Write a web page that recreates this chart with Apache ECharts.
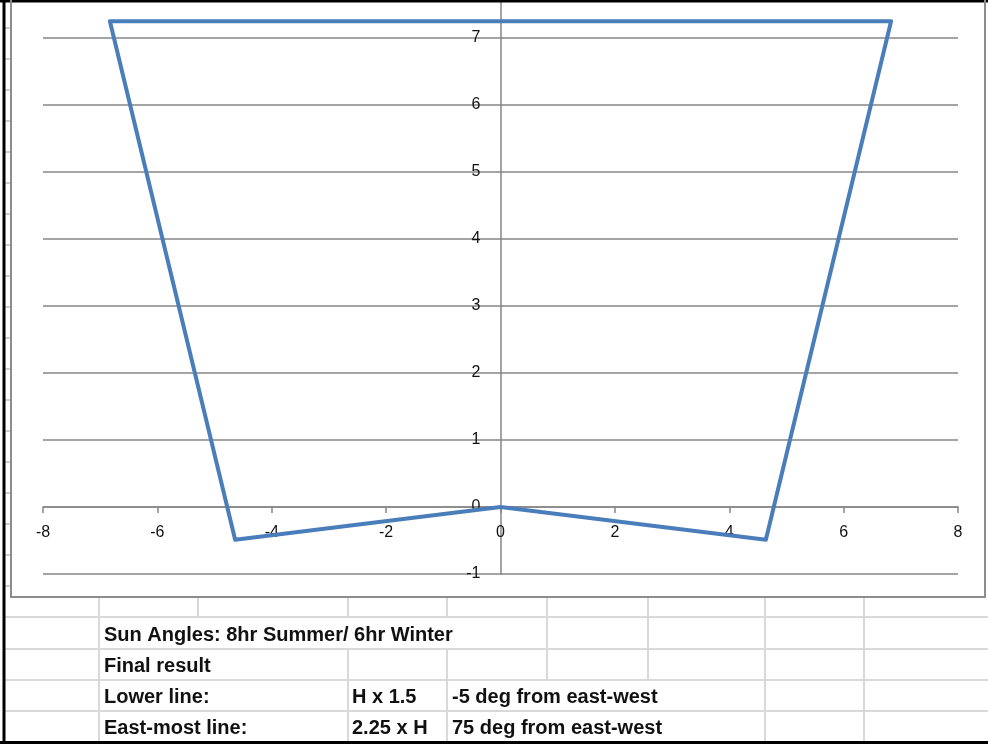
<!DOCTYPE html>
<html>
<head>
<meta charset="utf-8">
<script src="https://cdn.jsdelivr.net/npm/echarts@6/dist/echarts.min.js"></script>
<style>
html,body{margin:0;padding:0;background:#fff;}
#chart{width:988px;height:744px;}
</style>
</head>
<body>
<div id="chart"></div>
<script>
// Data
var xValues = [-6.83, -4.64, 0, 4.64, 6.83, -6.83];
var yValues = [7.25, -0.49, 0, -0.49, 7.25, 7.25];
var xTicks = [-8, -6, -4, -2, 0, 2, 4, 6, 8];
var yTicks = [-1, 0, 1, 2, 3, 4, 5, 6, 7];
var cellRows = [
  ["Sun Angles: 8hr Summer/ 6hr Winter", "", ""],
  ["Final result", "", ""],
  ["Lower line:", "H x 1.5", "-5 deg from east-west"],
  ["East-most line:", "2.25 x H", "75 deg from east-west"]
];

var points = xValues.map(function (x, i) { return [x, yValues[i]]; });

// spreadsheet decoration
var gridColor = '#d9d9d9';
var rowLines = [617, 649, 680, 711];
var colLines = [99, 198, 348, 447, 547, 648, 765, 864];
var rowBands = [[597, 617], [617, 649], [649, 680], [680, 711], [711, 742]];
var hidden = [[], [198, 348, 447], [198], [198, 547, 648], [198, 547, 648]];
var g = [];
function line(x1, y1, x2, y2, color, w) {
  g.push({type: 'line', silent: true, z: 1,
    shape: {x1: x1, y1: y1, x2: x2, y2: y2},
    style: {stroke: color, lineWidth: w}});
}
rowLines.forEach(function (y) { line(5, y, 988, y, gridColor, 2); });
rowBands.forEach(function (b, i) {
  colLines.forEach(function (x) {
    if (hidden[i].indexOf(x) < 0) line(x, b[0], x, b[1], gridColor, 2);
  });
});
for (var y = 28; y < 597; y += 31) line(5, y, 11, y, '#cfcfcf', 2);
g.push({type: 'rect', silent: true, z: 2,
  shape: {x: 11, y: -10, width: 974, height: 607},
  style: {fill: null, stroke: '#8c8c8c', lineWidth: 2}});
line(4, 0, 4, 744, '#000', 3);
line(0, 1, 988, 1, '#000', 3);
line(0, 742.5, 988, 742.5, '#000', 3);
var textX = [104, 352, 452];
var textY = [635, 666, 697, 728];
cellRows.forEach(function (r, i) {
  r.forEach(function (t, j) {
    if (!t) return;
    g.push({type: 'text', silent: true, z: 3, x: textX[j], y: textY[i],
      style: {text: t, fill: '#111', font: 'bold 20px "Liberation Sans", Arial, sans-serif',
        textAlign: 'left', textVerticalAlign: 'middle'}});
  });
});

var chart = echarts.init(document.getElementById('chart'));
chart.setOption({
  animation: false,
  backgroundColor: '#fff',
  textStyle: {fontFamily: '"Liberation Sans", Arial, sans-serif'},
  grid: {left: 43, right: 30, top: -29, bottom: 170, containLabel: false, outerBoundsMode: 'none'},
  xAxis: {
    type: 'value', min: xTicks[0], max: xTicks[xTicks.length - 1], interval: 2,
    position: 'bottom', offset: -67,
    axisLine: {onZero: false, lineStyle: {color: '#868686', width: 1.5}},
    axisTick: {show: true, length: 6, inside: false, lineStyle: {color: '#868686', width: 1.5}},
    axisLabel: {margin: 18, color: '#111', fontSize: 16},
    splitLine: {show: false}
  },
  yAxis: {
    type: 'value', min: yTicks[0], max: 8, interval: 1,
    position: 'left', offset: -457.5,
    axisLine: {show: true, onZero: false, lineStyle: {color: '#868686', width: 1.5}},
    axisTick: {show: false},
    axisLabel: {margin: 20, color: '#111', fontSize: 16},
    splitLine: {show: true, lineStyle: {color: '#868686', width: 1.5}}
  },
  series: [{
    type: 'line',
    data: points,
    showSymbol: false,
    symbol: 'none',
    lineStyle: {color: '#4a7ebb', width: 4, join: 'round', cap: 'round'},
    z: 5
  }],
  graphic: g
});
</script>
</body>
</html>
